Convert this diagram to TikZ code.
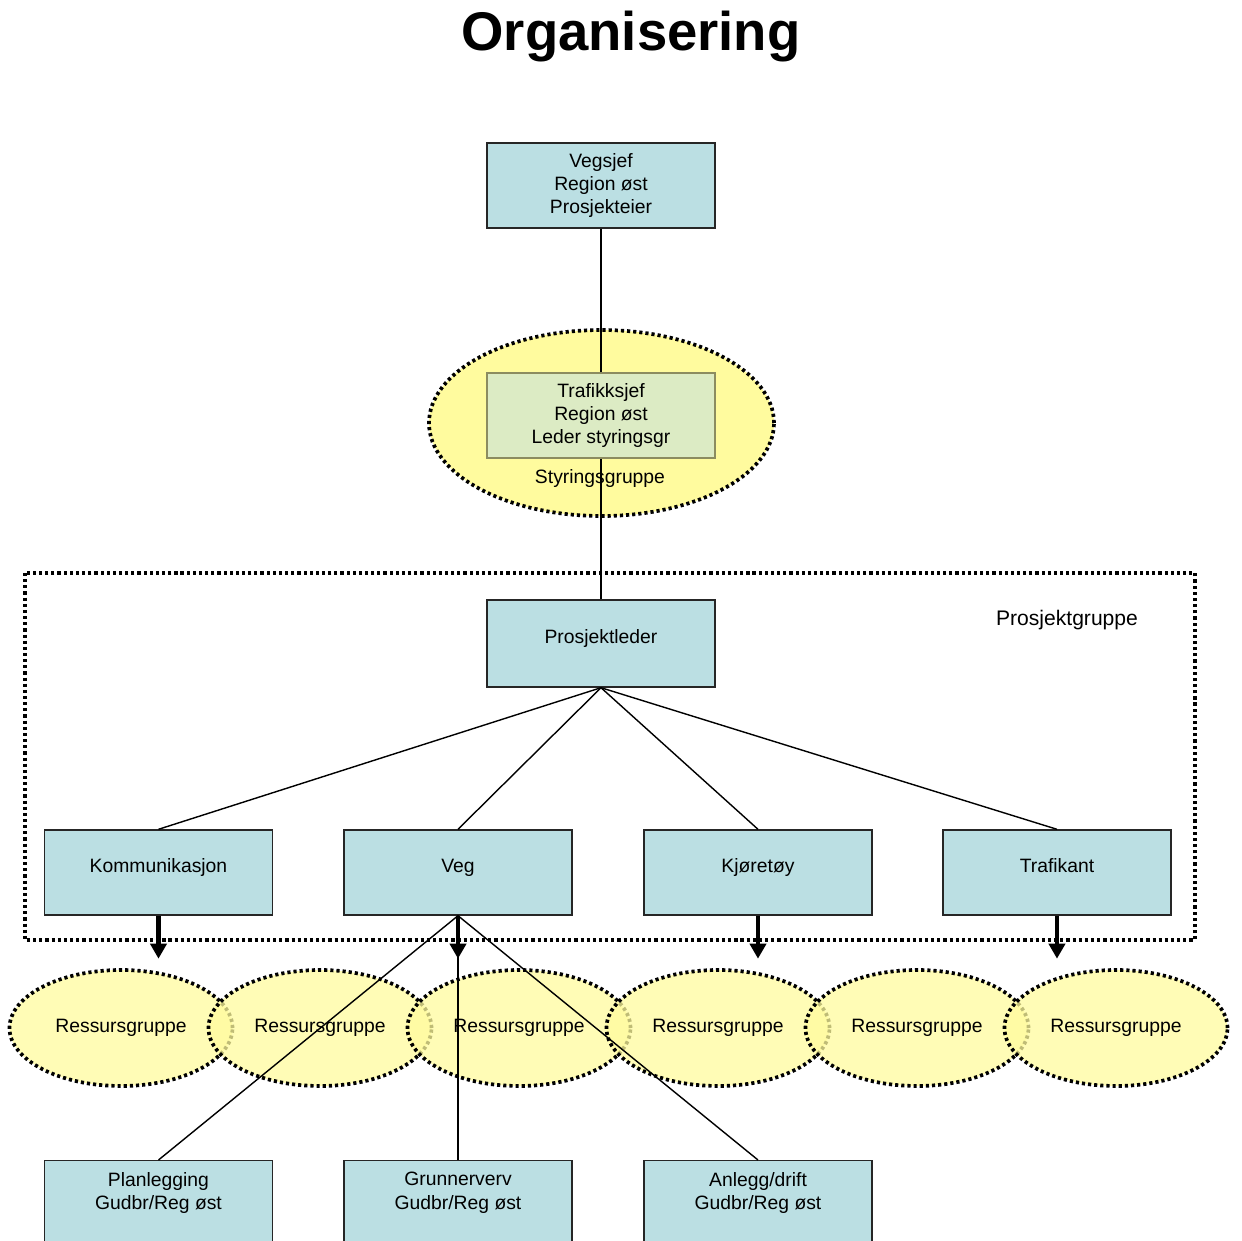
\documentclass[tikz,border=0pt]{standalone}
\usepackage{fontspec}
\setmainfont{Liberation Sans}
\usetikzlibrary{arrows.meta,calc,positioning,shapes.geometric}
\definecolor{boxblue}{HTML}{BBDFE3}
\definecolor{groupyellow}{HTML}{FFFB9E}
\definecolor{leadgreen}{HTML}{DCEBC4}
\definecolor{leadedge}{HTML}{8C8C60}
\tikzset{
  orgbox/.style={draw=black!85, line width=0.8pt, fill=boxblue, minimum width=4.56cm, minimum height=1.7cm, align=center, inner sep=2pt, font=\fontsize{11}{13.3}\selectfont},
  onelinebox/.style={orgbox, text height=8pt, text depth=8pt},
  leadbox/.style={orgbox, draw=leadedge, fill=leadgreen},
  groupring/.style={ellipse, draw=black, line width=2.1pt, dash pattern=on 1.8pt off 1.7pt, fill=groupyellow, inner sep=0pt},
  resring/.style={groupring, fill opacity=0.75, text opacity=1, draw opacity=1, minimum width=4.46cm, minimum height=2.32cm, font=\fontsize{11}{13.3}\selectfont},
  frameline/.style={black, line width=2.1pt, dash pattern=on 1.8pt off 1.7pt},
  link/.style={black, line width=0.8pt},
  downarrow/.style={black, line width=2.3pt, -{Triangle[width=0.32cm,length=0.3cm]}},
  plainlabel/.style={font=\fontsize{11}{13.3}\selectfont, align=center}
}

\begin{document}
\begin{tikzpicture}
  \useasboundingbox (0,0) rectangle (24.84,-24.82);
  \clip (0,0) rectangle (24.84,-24.82);

  \node[font=\bfseries\fontsize{31}{36}\selectfont] (title) at (12.62,-0.74) {Organisering};

  % top of the tree
  \node[orgbox] (vegsjef) at (12.02,-3.71) {Vegsjef\\Region øst\\Prosjekteier};
  \node[groupring, minimum width=6.9cm, minimum height=3.72cm] (styring) at (12.03,-8.46) {};
  \node[plainlabel] (stylabel) at (12.0,-9.56) {Styringsgruppe};

  % project group frame
  \draw[frameline] (0.5,-11.46) rectangle (23.9,-18.8);
  \node[font=\fontsize{12}{14}\selectfont] (pglabel) at (21.34,-12.4) {Prosjektgruppe};
  \node[onelinebox, minimum height=1.74cm] (leder) at (12.02,-12.87) {Prosjektleder};

  \draw[link] (vegsjef.south) -- (leder.north);
  \node[leadbox] (trafsjef) at (12.02,-8.31) {Trafikksjef\\Region øst\\Leder styringsgr};

  \node[onelinebox] (komm) at (3.17,-17.45) {Kommunikasjon};
  \node[onelinebox] (veg) at (9.16,-17.45) {Veg};
  \node[onelinebox] (kjor) at (15.16,-17.45) {Kjøretøy};
  \node[onelinebox] (traf) at (21.14,-17.45) {Trafikant};

  \foreach \n in {komm,veg,kjor,traf}{
    \draw[link] (leder.south) -- (\n.north);
    \draw[downarrow] (\n.south) -- ++(0,-0.86);
  }

  % resource groups
  \foreach \i in {0,...,5}{
    \node[resring] (res\i) at ({2.42+3.98*\i},-20.56) {Ressursgruppe};
  }

  \node[orgbox, anchor=north] (plan) at (3.17,-23.2) {};
  \node[orgbox, anchor=north] (grunn) at (9.16,-23.2) {};
  \node[orgbox, anchor=north] (anlegg) at (15.16,-23.2) {};
  \node[plainlabel, below=0.12cm of plan.north] (planlabel) {Planlegging\\Gudbr/Reg øst};
  \node[plainlabel, below=0.12cm of grunn.north] (grunnlabel) {Grunnerverv\\Gudbr/Reg øst};
  \node[plainlabel, below=0.12cm of anlegg.north] (anlegglabel) {Anlegg/drift\\Gudbr/Reg øst};

  \foreach \n in {plan,grunn,anlegg}{
    \draw[link] (veg.south) -- (\n.north);
  }
\end{tikzpicture}
\end{document}
